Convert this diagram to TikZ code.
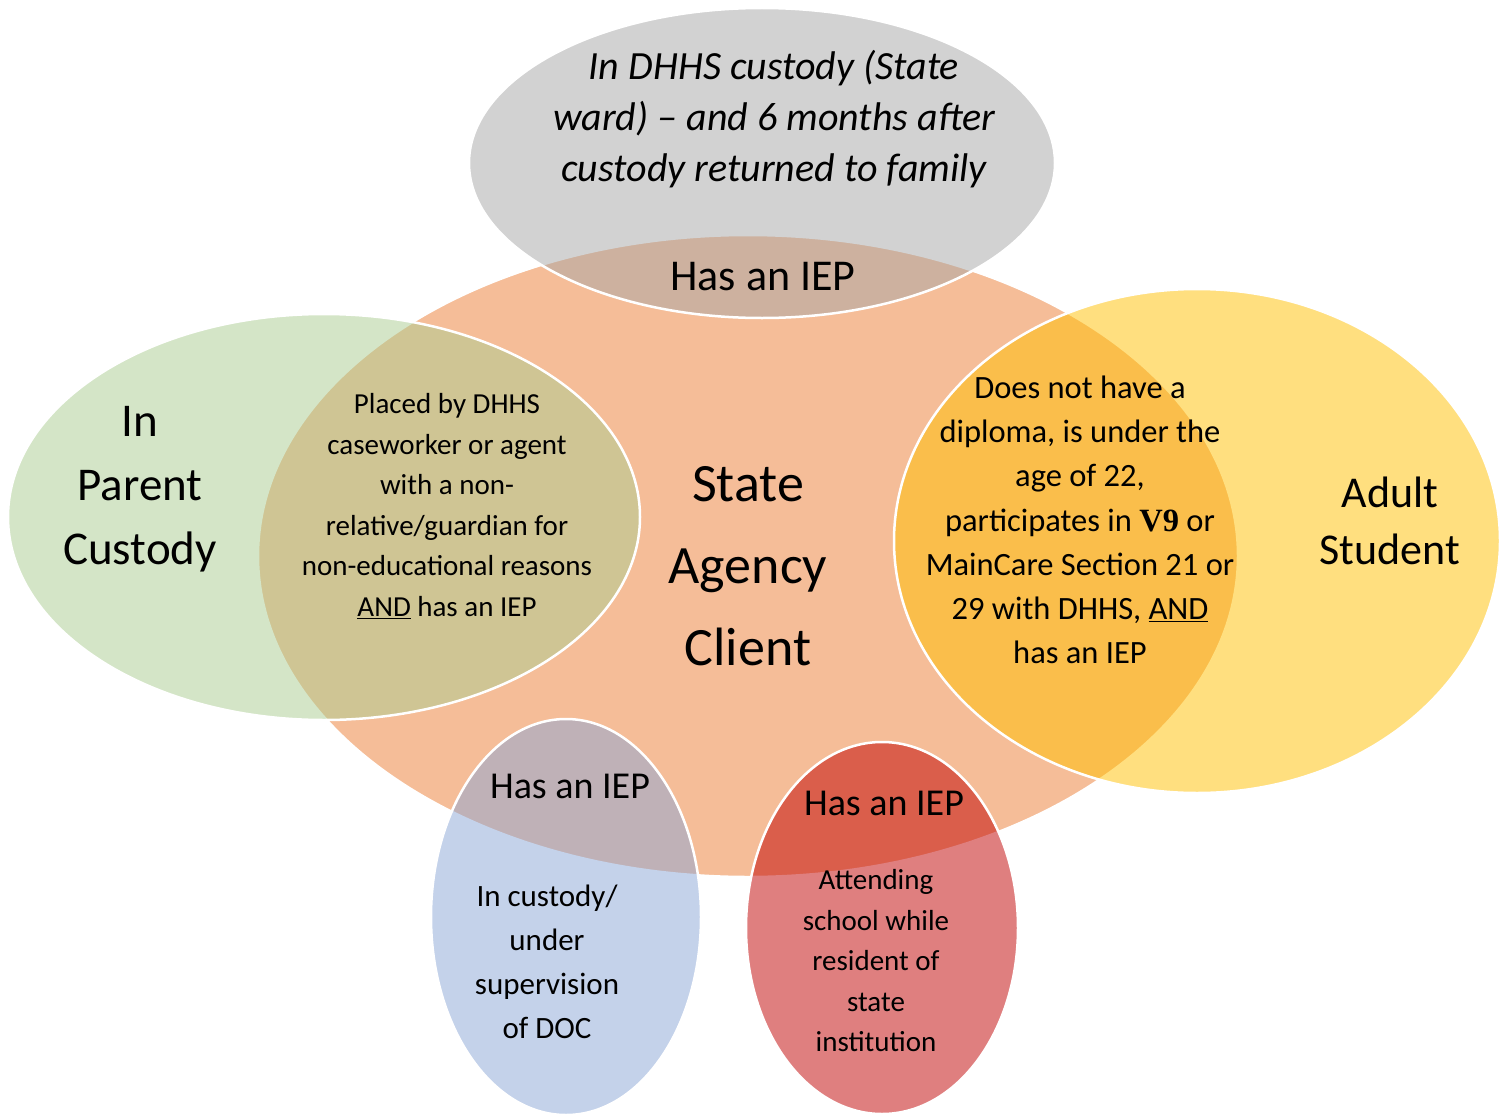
\documentclass[tikz,border=0pt]{standalone}
\usepackage{fontspec}
\setmainfont{Carlito}
\newfontfamily\vserif{Liberation Serif}
\usetikzlibrary{shapes.geometric}
\definecolor{cOrange}{RGB}{245,189,152}
\definecolor{cGray}{RGB}{167,167,167}
\definecolor{cGreen}{RGB}{171,205,145}
\definecolor{cYellow}{RGB}{255,192,0}
\definecolor{cBlue}{RGB}{139,167,215}
\definecolor{cRed}{RGB}{192,0,0}
\tikzset{
  ell/.style={ellipse, draw=white, line width=2.5pt, inner sep=0pt},
  half/.style={fill opacity=0.5},
  lbl/.style={align=center, inner sep=0pt, text=black},
}
\newcommand{\fsz}[2]{\fontsize{#1}{#2}\selectfont}
\begin{document}
\begin{tikzpicture}[x=1pt,y=-1pt]
\fill[white] (0,0) rectangle (1505,1116);
\useasboundingbox (0,0) rectangle (1505,1116);
% ellipses
\node[ell, fill=cOrange, minimum width=980pt, minimum height=642pt] (orange) at (748,556) {};
\node[ell, half, fill=cGray, minimum width=586pt, minimum height=310pt] (gray) at (762,163) {};
\node[ell, half, fill=cGreen, minimum width=632pt, minimum height=406pt] (green) at (324,517) {};
\node[ell, half, fill=cYellow, minimum width=606pt, minimum height=504pt] (yellow) at (1197,541) {};
\node[ell, half, fill=cBlue, minimum width=270pt, minimum height=396pt] (blue) at (566,917) {};
\node[ell, half, fill=cRed, minimum width=272pt, minimum height=372pt] (red) at (882,928) {};
% texts
\node[lbl, font=\fsz{40}{51}\itshape] (tgray) at (774,119) {In DHHS custody (State\\ward) -- and 6 months after\\custody returned to family};
\node[lbl, font=\fsz{44}{46}] (tiep1) at (763,277) {Has an IEP};
\node[lbl, font=\fsz{47}{64}] (tparent) at (140,489) {In\\Parent\\Custody};
\node[lbl, font=\fsz{29}{40.6}] (tplaced) at (447,506) {Placed by DHHS\\caseworker or agent\\with a non-\\relative/guardian for\\non-educational reasons\\\underline{AND} has an IEP};
\node[lbl, font=\fsz{54}{82}] (tsac) at (748,566) {State\\Agency\\Client};
\node[lbl, font=\fsz{32.5}{44.2}] (tadultiep) at (1080,520) {Does not have a\\diploma, is under the\\age of 22,\\participates in {\vserif\bfseries V9} or\\MainCare Section 21 or\\29 with DHHS, \underline{AND}\\has an IEP};
\node[lbl, font=\fsz{44}{57}] (tadult) at (1390,521) {Adult\\Student};
\node[lbl, font=\fsz{38}{40}] (tiep2) at (570,786) {Has an IEP};
\node[lbl, font=\fsz{31}{44}] (tdoc) at (547,962) {In custody/\\under\\supervision\\of DOC};
\node[lbl, font=\fsz{38}{40}] (tiep3) at (884,803) {Has an IEP};
\node[lbl, font=\fsz{29}{40.5}] (tinst) at (876,961) {Attending\\school while\\resident of\\state\\institution};
\end{tikzpicture}
\end{document}
